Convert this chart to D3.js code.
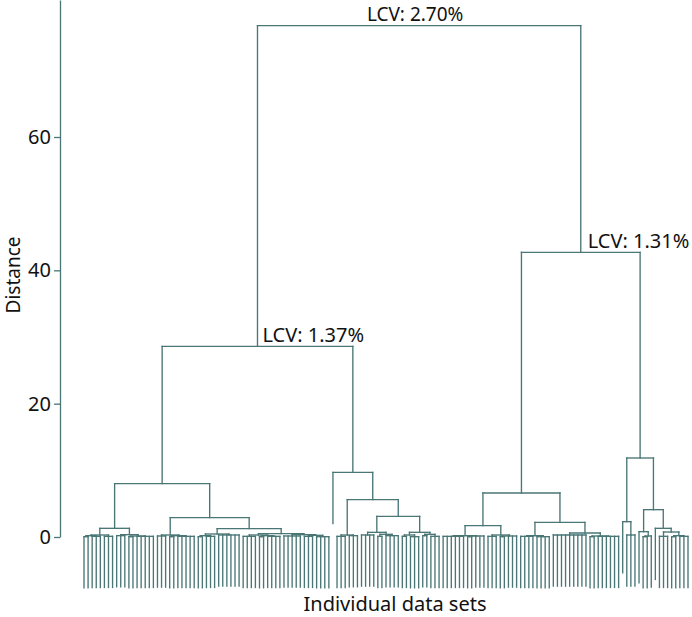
<!DOCTYPE html>
<html>
<head>
<meta charset="utf-8">
<script src="https://cdn.jsdelivr.net/npm/d3@7/dist/d3.min.js"></script>
<style>
  html, body { margin: 0; padding: 0; background: #fff; }
  svg { display: block; }
  text { font-family: "Noto Sans", "Open Sans", sans-serif; fill: #111; }
</style>
</head>
<body>
<svg id="chart" width="692" height="617"></svg>
<script>
// ---- Data: dendrogram sub-clusters. Node = [mergeHeight, child, child, ...]; a bare number is a leaf (data set index).
const clusterL1a = [1.3,
  [0.3, [0.2, [0.05, 0, 1], [0.1, 2, 3, 4]], [0.1, 5, 6, 7]],
  [0.35, [0.2, 8, 9, 10], [0.15, [0.05, 11, 12], [0.1, 13, 14, 15, 16, 17]]]];

const clusterL1b = [2.9,
  [0.3, [0.15, 18, 19, 20], [0.2, [0.05, 21, 22], [0.1, 23, 24, 25, 26, 27]]],
  [1.25,
    [0.45, [0.2, [0.05, 28, 29], [0.1, 30, 31, 32]], [0.3, 33, 34, 35, 36, 37, 38]],
    [0.5,
      [0.3, [0.1, 39, 40, 41, 42], [0.2, [0.05, 43, 44], [0.1, 45, 46, 47, 48]]],
      [0.35, [0.15, 49, 50, 51, 52, 53], [0.25, [0.1, 54, 55, 56], [0.05, 57, 58, 59, 60]]]]]];

const clusterL2 = [9.7, 61,
  [5.6,
    [0.3, [0.1, 62, 63, 64], [0.2, 65, 66, 67]],
    [3.1,
      [0.7, [0.3, 68, 69, 70, 71], [0.4, [0.1, 72, 73], [0.2, 74, 75, 76, 77]]],
      [0.7, [0.3, [0.1, 78, 79], [0.05, 80, 81, 82]], [0.4, [0.2, 83, 84], [0.1, 85, 86, 87]]]]]];

const clusterR1 = [6.6,
  [1.7,
    [0.2, [0.1, 88, 89, 90, 91, 92, 93], [0.15, [0.05, 94, 95], 96, 97, 98]],
    [0.3, [0.1, 99, 100, 101], [0.15, [0.05, 102, 103], 104, 105, 106]]],
  [2.2,
    [0.2, [0.1, 107, 108, 109, 110], [0.05, 111, 112, 113, 114]],
    [0.6, [0.3, 115, 116, 117, 118, 119, 120, 121, 122, 123],
          [0.15, [0.05, 124, 125], [0.1, 126, 127, 128, 129, 130, 131]]]]];

const clusterR2 = [11.85,
  [2.3, 132, [0.3, 133, 134, 135]],
  [4.1,
    [0.8, 136, [0.15, [0.05, 137, 138], 139]],
    [1.3, 140, [0.75, [0.1, 141, 142, 143], [0.2, [0.05, 144, 145], [0.1, 146, 147, 148]]]]]];

const topHeights = { root: 76.7, left: 28.6, leftA: 8.0, right: 42.7 };
const lcvLabels = ["LCV: 2.70%", "LCV: 1.37%", "LCV: 1.31%"];
const yTicks = [0, 20, 40, 60];
const yTitle = "Distance";
const xTitle = "Individual data sets";

const treeArr = [topHeights.root,
  [topHeights.left, [topHeights.leftA, clusterL1a, clusterL1b], clusterL2],
  [topHeights.right, clusterR1, clusterR2]];

// ---- Layout
const color = "#4a7676";
const svg = d3.select("#chart");

function build(a) {
  if (typeof a === "number") return { leaf: a };
  return { h: a[0], children: a.slice(1).map(build) };
}
const root = d3.hierarchy(build(treeArr));
const leaves = root.leaves();
const nLeaves = leaves.length;

const x = d3.scaleLinear().domain([0, nLeaves - 1]).range([84, 688]);
const y = d3.scaleLinear().domain([0, 80.55]).range([537, 0]);
const hang = 0.1 * root.data.h;

leaves.forEach((d, i) => { d.px = x(i); });
root.eachAfter(d => {
  if (d.children) {
    d.px = (d.children[0].px + d.children[d.children.length - 1].px) / 2;
  }
});

// axis
const axis = d3.axisLeft(y).tickValues(yTicks).tickSize(6).tickSizeOuter(0).tickPadding(3);
const gAxis = svg.append("g").attr("transform", "translate(60,0)").call(axis);
gAxis.select(".domain").attr("stroke", color).attr("stroke-width", 1.3);
gAxis.selectAll(".tick line").attr("stroke", color).attr("stroke-width", 1.3);
gAxis.selectAll(".tick text").attr("font-size", 20).attr("fill", "#111")
  .style("font-family", "'Noto Sans', sans-serif");

// dendrogram segments
const segs = [];
root.each(d => {
  if (!d.children) return;
  const yh = y(d.data.h);
  const first = d.children[0], last = d.children[d.children.length - 1];
  segs.push([first.px, yh, last.px, yh]);
  d.children.forEach(c => {
    const yEnd = c.children ? y(c.data.h) : y(d.data.h - hang);
    segs.push([c.px, yh, c.px, yEnd]);
  });
});
svg.append("g").selectAll("line").data(segs).join("line")
  .attr("x1", s => s[0]).attr("y1", s => s[1])
  .attr("x2", s => s[2]).attr("y2", s => s[3])
  .attr("stroke", color).attr("stroke-width", 1.35).attr("stroke-linecap", "square");

// LCV labels
const nodeRoot = root, nodeL = root.children[0], nodeR = root.children[1];
svg.append("text").attr("x", nodeRoot.px - 4).attr("y", y(nodeRoot.data.h) - 5)
  .attr("text-anchor", "middle").attr("font-size", 19).text(lcvLabels[0]);
svg.append("text").attr("x", nodeL.px + 5).attr("y", y(nodeL.data.h) - 4)
  .attr("text-anchor", "start").attr("font-size", 20).text(lcvLabels[1]);
svg.append("text").attr("x", nodeR.px + 7).attr("y", y(nodeR.data.h) - 4)
  .attr("text-anchor", "start").attr("font-size", 20).text(lcvLabels[2]);

// axis titles
svg.append("text").attr("transform", "translate(20,275) rotate(-90)")
  .attr("text-anchor", "middle").attr("font-size", 19).text(yTitle);
svg.append("text").attr("x", 395).attr("y", 611)
  .attr("text-anchor", "middle").attr("font-size", 20).text(xTitle);
</script>
</body>
</html>
